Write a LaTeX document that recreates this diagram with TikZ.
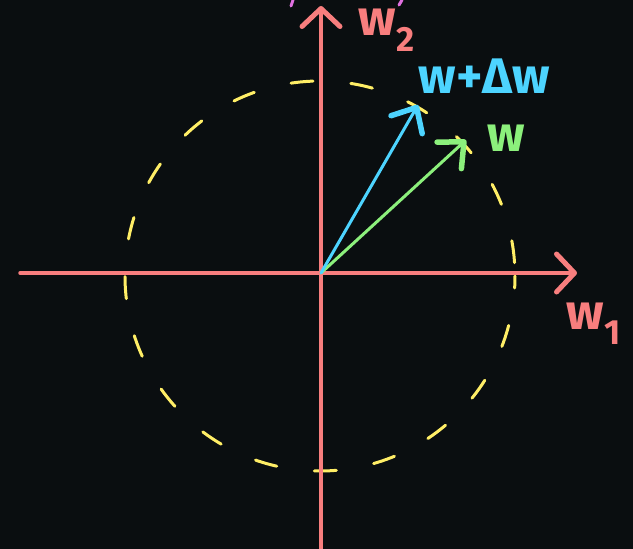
\documentclass[tikz,border=0pt]{standalone}
\usepackage{fontspec}
\setmainfont{Fira Sans}
\usetikzlibrary{arrows.meta}
\definecolor{bg}{HTML}{0A0E10}
\definecolor{axis}{HTML}{F87E7E}
\definecolor{vecg}{HTML}{8CF07C}
\definecolor{vecc}{HTML}{4DD4FF}
\definecolor{circ}{HTML}{FFEE66}
\definecolor{mag}{HTML}{E070E0}
\tikzset{
  axisline/.style={draw=axis, line width=3.5pt, line cap=round,
    -{Straight Barb[length=18pt, width=38pt, line width=5pt, round]}},
  vecline/.style={line width=3pt, line cap=round,
    -{Straight Barb[length=20pt, width=36pt, line width=5.5pt, round]}},
  lbl/.style={inner sep=0pt, font=\bfseries\fontsize{50}{50}\selectfont},
  circledash/.style={draw=circ, line width=3pt, line cap=round, dash pattern=on 22pt off 38pt, dash phase=10pt}
}
\begin{document}
\begin{tikzpicture}[x=1pt, y=-1pt]
  \fill[bg] (0,0) rectangle (633,549);
  \useasboundingbox (0,0) rectangle (633,549);
  \coordinate (O) at (321,273);
  \coordinate (xl) at (20,273);
  \coordinate (xr) at (577,273);
  \coordinate (yb) at (321,549);
  \coordinate (yt) at (321,6);
  \coordinate (gt) at (466,140);
  \coordinate (ct) at (418,105);
  % dashed circle
  \draw[circledash] (320,276) circle[radius=195];
  % axes
  \draw[axisline] (xl) -- (xr);
  \draw[axisline] (yb) -- (yt);
  % vectors
  \draw[vecline, draw=vecg] (O) -- (gt);
  \draw[vecline, draw=vecc] (O) -- (ct);
  % labels
  \node[lbl, text=vecc] (lc) at (484,76) {w+Δw};
  \node[lbl, text=vecg] (lg) at (506,138) {w};
  \node[lbl, text=axis] (l2) at (387,30) {w\textsubscript{2}};
  \node[lbl, text=axis] (l1) at (594,324) {w\textsubscript{1}};
  % partial marks at top
  \draw[mag, line width=3pt, line cap=round] (293,0) -- (291,6);
  \draw[mag, line width=3pt, line cap=round] (402,0) -- (399,5);
\end{tikzpicture}
\end{document}
